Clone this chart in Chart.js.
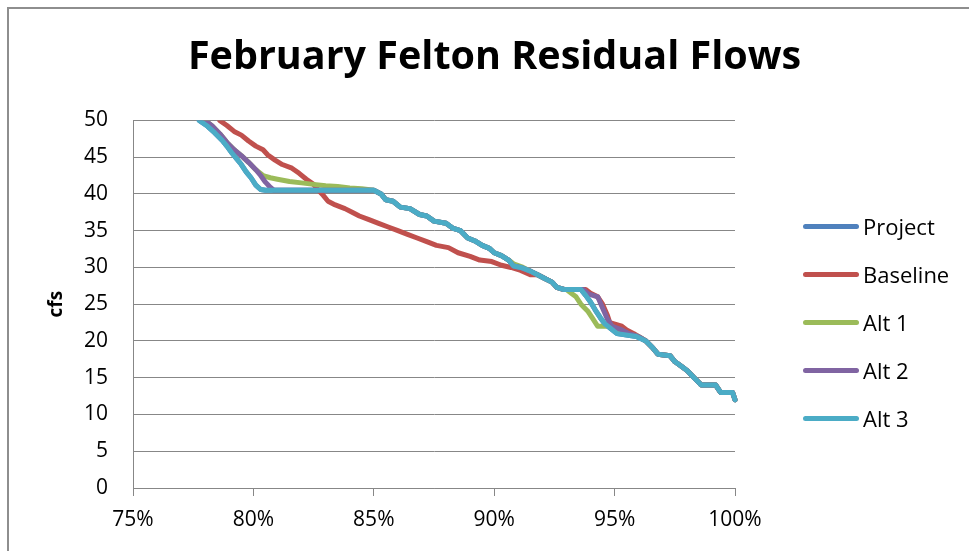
<!DOCTYPE html>
<html>
<head>
<meta charset="utf-8">
<title>February Felton Residual Flows</title>
<script src="https://cdn.jsdelivr.net/npm/chart.js@4.4.1/dist/chart.umd.min.js"></script>
<style>
  html, body { margin: 0; padding: 0; background: #fff; overflow: hidden; }
  #wrap { position: relative; width: 969px; height: 551px; overflow: hidden; }
  #frame { position: absolute; left: 7px; top: 7px; width: 1100px; height: 700px;
           border: 2px solid #8e8e8e; box-sizing: border-box; }
  #chartBox { position: absolute; left: 0; top: 0; width: 969px; height: 551px; }
  #legend { position: absolute; left: 0; top: 0; font-family: "Open Sans", sans-serif;
            font-size: 22px; color: #000; }
  .item { position: absolute; left: 803px; height: 30px; display: flex; align-items: center;
          white-space: nowrap; }
  .swatch { width: 56px; height: 5px; border-radius: 3px; margin-right: 4px; }
</style>
</head>
<body>
<div id="wrap">
  <div id="frame"></div>
  <div id="chartBox"><canvas id="flowChart"></canvas></div>
  <div id="legend"></div>
</div>
<script>
// ---- data ([exceedance %, cfs]) ----
const SERIES_NAMES  = ['Project', 'Baseline', 'Alt 1', 'Alt 2', 'Alt 3'];
const SERIES_COLORS = ['#4f81bd', '#c0504d', '#9bbb59', '#8064a2', '#4bacc6'];
const X_TICKS = [75, 80, 85, 90, 95, 100];
const Y_TICKS = [0, 5, 10, 15, 20, 25, 30, 35, 40, 45, 50];

const project = [
  [77.75,50],[78.1,49.2],[78.4,48.3],[78.7,47.3],[78.9,46.5],[79.1,45.6],[79.3,44.8],[79.5,44.0],
  [79.7,43.0],[79.9,42.2],[80.1,41.2],[80.3,40.6],[80.5,40.5],[85.0,40.5],[85.3,40.0],[85.5,39.2],
  [85.8,39.0],[86.1,38.2],[86.5,38.0],[86.9,37.2],[87.2,37.0],[87.5,36.3],[88.0,36.0],[88.3,35.3],
  [88.6,35.0],[88.9,34.0],[89.2,33.6],[89.5,33.0],[89.8,32.6],[90.0,32.0],[90.3,31.6],[90.6,31.0],
  [90.8,30.2],[91.1,30.0],[91.5,29.5],[91.8,29.0],[92.1,28.5],[92.4,28.0],[92.6,27.3],[92.9,27.0],
  [93.6,27.0],[93.8,26.2],[94.0,25.3],[94.2,24.2],[94.4,23.2],[94.6,22.3],[94.8,21.8],[95.1,21.0],
  [95.9,20.6],[96.3,20.0],[96.6,19.0],[96.8,18.2],[97.3,18.0],[97.5,17.2],[97.8,16.5],[98.0,16.0],
  [98.3,15.0],[98.6,14.0],[99.2,14.0],[99.4,13.0],[99.9,13.0],[100,12.0]
];
const baseline = [
  [78.6,50],[78.9,49.3],[79.2,48.5],[79.5,48.0],[79.8,47.2],[80.1,46.5],[80.4,46.0],[80.6,45.3],
  [80.9,44.6],[81.2,44.0],[81.6,43.5],[81.9,42.8],[82.2,42.0],[82.5,41.3],[82.7,40.5],[82.9,39.8],
  [83.1,39.0],[83.4,38.5],[83.8,38.0],[84.1,37.5],[84.4,37.0],[84.8,36.5],[85.2,36.0],[85.6,35.5],
  [86.0,35.0],[86.4,34.5],[86.8,34.0],[87.2,33.5],[87.6,33.0],[88.1,32.7],[88.5,32.0],[89.0,31.5],
  [89.4,31.0],[89.9,30.8],[90.3,30.3],[90.7,30.0],[91.1,29.6],[91.5,29.0],[91.8,29.0],[92.1,28.5],
  [92.4,28.0],[92.6,27.3],[92.9,27.0],[93.8,27.0],[94.0,26.5],[94.3,26.0],[94.5,25.0],[94.7,23.5],
  [94.8,22.5],[95.3,22.0],[95.5,21.5],[95.8,21.0],[96.0,20.6],[96.3,20.0],[96.6,19.0],[96.8,18.2],
  [97.3,18.0],[97.5,17.2],[97.8,16.5],[98.0,16.0],[98.3,15.0],[98.6,14.0],[99.2,14.0],[99.4,13.0],
  [99.9,13.0],[100,12.0]
];
const alt1 = [
  [78.0,50],[78.3,49.2],[78.6,48.2],[78.9,47.0],[79.2,46.0],[79.5,45.2],[79.8,44.3],[80.1,43.3],
  [80.4,42.5],[80.7,42.2],[81.0,42.0],[81.5,41.7],[82.0,41.5],[82.5,41.3],[83.0,41.1],[83.5,41.0],
  [84.0,40.8],[84.5,40.7],[85.0,40.5],[85.3,40.0],[85.5,39.2],[85.8,39.0],[86.1,38.2],[86.5,38.0],
  [86.9,37.2],[87.2,37.0],[87.5,36.3],[88.0,36.0],[88.3,35.3],[88.6,35.0],[88.9,34.0],[89.2,33.6],
  [89.5,33.0],[89.8,32.6],[90.0,32.0],[90.3,31.6],[90.6,31.0],[90.8,30.5],[91.2,30.0],[91.5,29.5],
  [91.8,29.0],[92.1,28.5],[92.4,28.0],[92.6,27.3],[92.9,27.0],[93.0,27.0],[93.2,26.5],[93.4,26.0],
  [93.6,25.0],[93.9,24.0],[94.1,23.0],[94.3,22.0],[94.9,22.0],[95.2,21.2],[95.5,21.0],[96.0,20.6],
  [96.3,20.0],[96.6,19.0],[96.8,18.2],[97.3,18.0],[97.5,17.2],[97.8,16.5],[98.0,16.0],[98.3,15.0],
  [98.6,14.0],[99.2,14.0],[99.4,13.0],[99.9,13.0],[100,12.0]
];
const alt2 = [
  [78.0,50],[78.3,49.2],[78.6,48.2],[78.9,47.0],[79.2,46.0],[79.5,45.2],[79.8,44.3],[80.1,43.3],
  [80.3,42.5],[80.5,41.6],[80.7,40.9],[80.85,40.5],[85.0,40.5],[85.3,40.0],[85.5,39.2],[85.8,39.0],
  [86.1,38.2],[86.5,38.0],[86.9,37.2],[87.2,37.0],[87.5,36.3],[88.0,36.0],[88.3,35.3],[88.6,35.0],
  [88.9,34.0],[89.2,33.6],[89.5,33.0],[89.8,32.6],[90.0,32.0],[90.3,31.6],[90.6,31.0],[90.8,30.2],
  [91.1,30.0],[91.5,29.5],[91.8,29.0],[92.1,28.5],[92.4,28.0],[92.6,27.3],[92.9,27.0],[93.7,27.0],
  [93.9,26.4],[94.3,26.0],[94.5,24.5],[94.7,23.0],[94.9,22.0],[95.3,21.5],[95.6,21.0],[96.0,20.6],
  [96.3,20.0],[96.6,19.0],[96.8,18.2],[97.3,18.0],[97.5,17.2],[97.8,16.5],[98.0,16.0],[98.3,15.0],
  [98.6,14.0],[99.2,14.0],[99.4,13.0],[99.9,13.0],[100,12.0]
];
const alt3 = [
  [77.75,50],[78.1,49.2],[78.4,48.3],[78.7,47.3],[78.9,46.5],[79.1,45.6],[79.3,44.8],[79.5,44.0],
  [79.7,43.0],[79.9,42.2],[80.1,41.2],[80.3,40.6],[80.5,40.5],[85.0,40.5],[85.3,40.0],[85.5,39.2],
  [85.8,39.0],[86.1,38.2],[86.5,38.0],[86.9,37.2],[87.2,37.0],[87.5,36.3],[88.0,36.0],[88.3,35.3],
  [88.6,35.0],[88.9,34.0],[89.2,33.6],[89.5,33.0],[89.8,32.6],[90.0,32.0],[90.3,31.6],[90.6,31.0],
  [90.8,30.2],[91.1,30.0],[91.5,29.5],[91.8,29.0],[92.1,28.5],[92.4,28.0],[92.6,27.3],[92.9,27.0],
  [93.6,27.0],[93.8,26.2],[94.0,25.3],[94.2,24.2],[94.4,23.2],[94.6,22.3],[94.8,21.8],[95.1,21.0],
  [95.9,20.6],[96.3,20.0],[96.6,19.0],[96.8,18.2],[97.3,18.0],[97.5,17.2],[97.8,16.5],[98.0,16.0],
  [98.3,15.0],[98.6,14.0],[99.2,14.0],[99.4,13.0],[99.9,13.0],[100,12.0]
];
const SERIES_DATA = [project, baseline, alt1, alt2, alt3];

// ---- chart ----
const FONT = '"Open Sans", sans-serif';
const GRID = '#878787';
Chart.defaults.font.family = FONT;
Chart.defaults.color = '#000';

const datasets = SERIES_NAMES.map((name, i) => ({
  label: name,
  data: SERIES_DATA[i].map(([x, y]) => ({ x, y })),
  borderColor: SERIES_COLORS[i],
  backgroundColor: SERIES_COLORS[i],
  borderWidth: 5,
  pointRadius: 0,
  tension: 0,
  borderJoinStyle: 'round',
  borderCapStyle: 'round',
  order: SERIES_NAMES.length - i,   // Alt 3 ends up on top
  clip: { left: 5, right: 5, top: 0, bottom: 5 },
}));

new Chart(document.getElementById('flowChart'), {
  type: 'line',
  data: { datasets },
  options: {
    responsive: true,
    maintainAspectRatio: false,
    animation: false,
    layout: { padding: { left: 20, right: 0, top: 0, bottom: 0 } },
    plugins: {
      legend: { display: false },
      tooltip: { enabled: false },
      title: {
        display: true,
        text: 'February Felton Residual Flows',
        font: { size: 39.5, weight: 'bold', family: FONT },
        color: '#000',
        padding: { top: 34, bottom: 39 },
      },
    },
    scales: {
      x: {
        type: 'linear',
        min: 75, max: 100,
        afterBuildTicks: s => { s.ticks = X_TICKS.map(v => ({ value: v })); },
        afterFit: s => { s.height = 63; },
        grid: { drawOnChartArea: false, drawTicks: true, tickLength: 8, color: GRID },
        border: { display: true, color: GRID, width: 1 },
        ticks: { font: { size: 21 }, padding: 11, callback: v => v + '%', maxRotation: 0 },
      },
      y: {
        min: 0, max: 50,
        afterBuildTicks: s => { s.ticks = Y_TICKS.map(v => ({ value: v })); },
        afterFit: s => { s.width = 113; },
        grid: { color: GRID, drawTicks: false },
        border: { display: true, color: GRID, width: 1 },
        ticks: { font: { size: 21 }, padding: 25 },
        title: {
          display: true, text: 'cfs',
          font: { size: 19, weight: 'bold', family: FONT },
          color: '#000',
          padding: { top: 25, bottom: 0 },
        },
      },
      // empty right-hand scale: just reserves room for the legend
      legendSpace: {
        type: 'linear', position: 'right', min: 0, max: 1,
        grid: { display: false }, border: { display: false }, ticks: { display: false },
        afterFit: s => { s.width = 234; },
      },
    },
  },
});

// ---- legend (html, right side) ----
const legendEl = document.getElementById('legend');
SERIES_NAMES.forEach((name, i) => {
  const item = document.createElement('div');
  item.className = 'item';
  item.style.top = (226 + i * 48 - 15) + 'px';
  item.innerHTML = `<span class="swatch" style="background:${SERIES_COLORS[i]}"></span>${name}`;
  legendEl.appendChild(item);
});
</script>
</body>
</html>
